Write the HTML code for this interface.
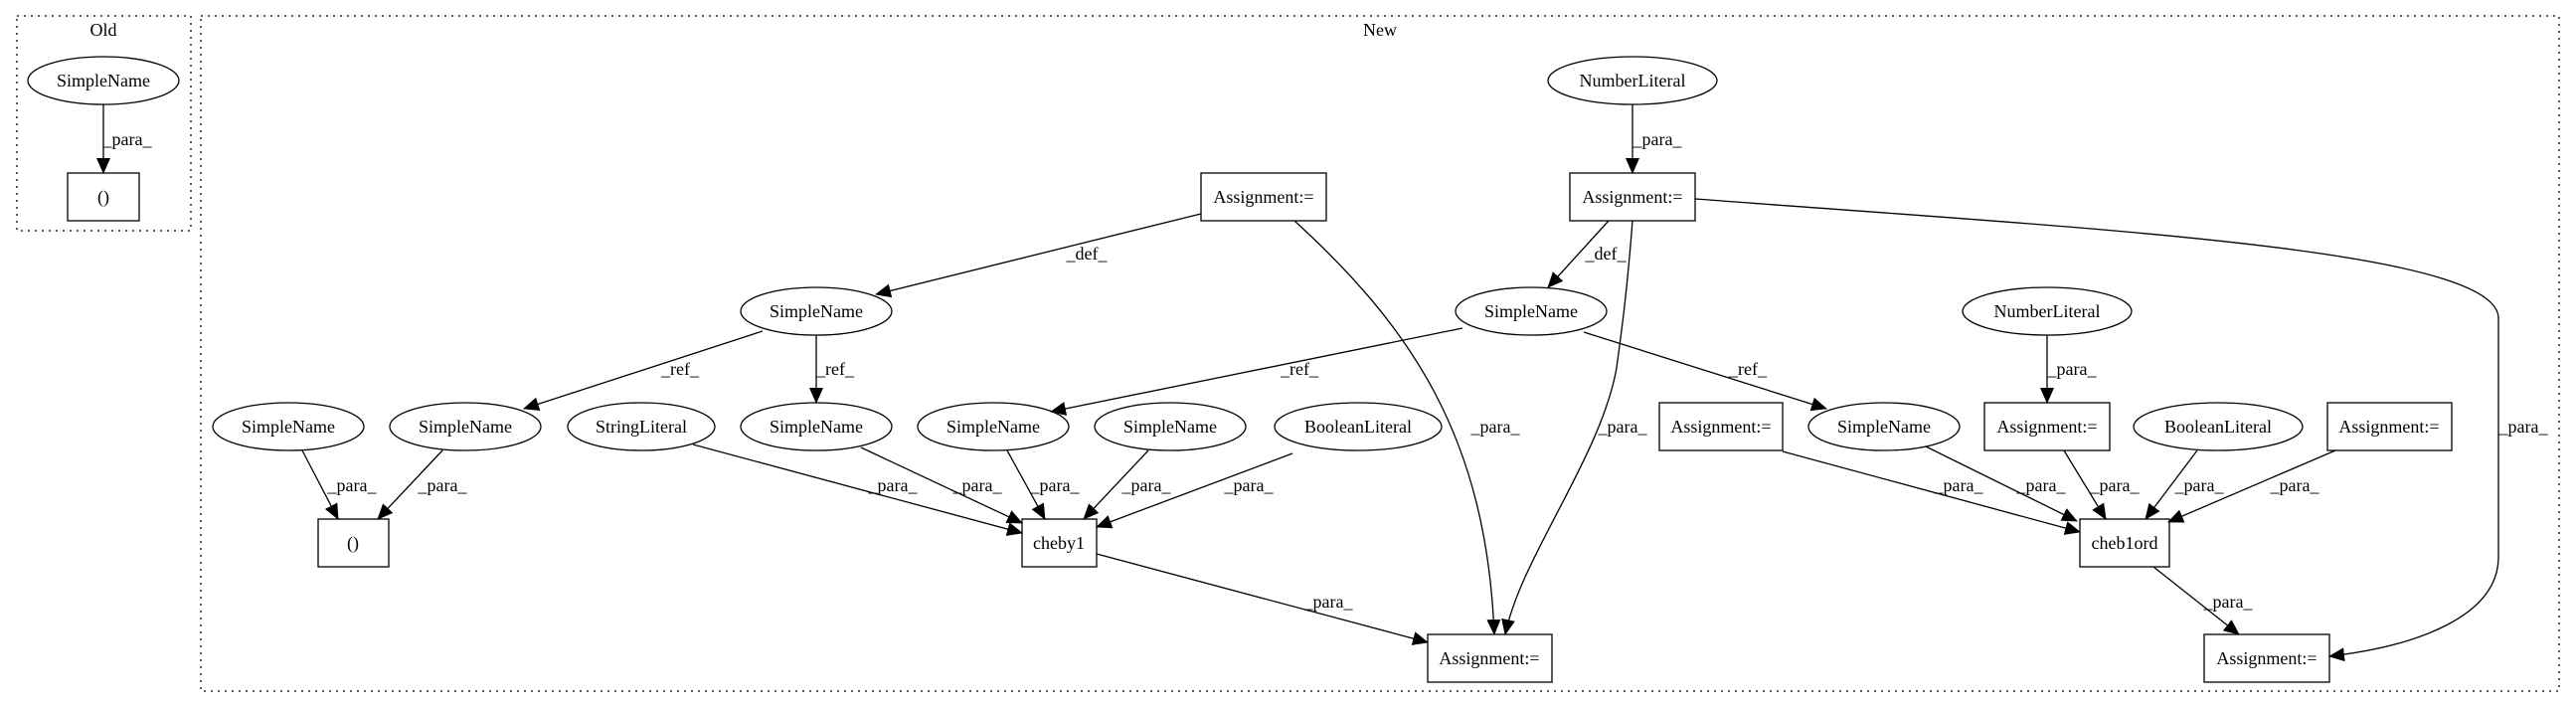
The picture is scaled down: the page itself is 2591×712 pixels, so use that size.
<!DOCTYPE html>
<html><head><meta charset="utf-8"><style>
html,body{margin:0;padding:0;background:#fff;}
svg{display:block;}
text{font-family:"Liberation Serif",serif;font-size:18px;fill:#000;}
</style></head><body>
<svg width="2591" height="712" viewBox="0 0 2591 712" xmlns="http://www.w3.org/2000/svg">
<defs>
<marker id="a" markerUnits="userSpaceOnUse" markerWidth="16" markerHeight="14" refX="15" refY="7" orient="auto">
<path d="M0,0 L16,7 L0,14 Z" fill="#000"/>
</marker>
</defs>
<g fill="none" stroke="#000" stroke-width="1.3">
<!-- clusters -->
<rect x="17" y="16" width="175" height="216" stroke-dasharray="2,5"/>
<rect x="202" y="16" width="2372" height="679" stroke-dasharray="2,5"/>

<!-- nodes: ellipses -->
<ellipse cx="104" cy="81" rx="76" ry="24"/>
<ellipse cx="1642" cy="81" rx="85" ry="24"/>
<ellipse cx="821" cy="313" rx="76" ry="24"/>
<ellipse cx="1540" cy="313" rx="76" ry="24"/>
<ellipse cx="2059" cy="313" rx="85" ry="24"/>
<ellipse cx="290" cy="429" rx="76" ry="24"/>
<ellipse cx="468" cy="429" rx="76" ry="24"/>
<ellipse cx="645" cy="429" rx="74" ry="24"/>
<ellipse cx="821" cy="429" rx="76" ry="24"/>
<ellipse cx="999" cy="429" rx="76" ry="24"/>
<ellipse cx="1177" cy="429" rx="76" ry="24"/>
<ellipse cx="1366" cy="429" rx="84" ry="24"/>
<ellipse cx="1895" cy="429" rx="76" ry="24"/>
<ellipse cx="2231" cy="429" rx="85" ry="24"/>

<!-- boxes -->
<rect x="68" y="174" width="72" height="48"/>
<rect x="1208" y="174" width="126" height="48"/>
<rect x="1579" y="174" width="126" height="48"/>
<rect x="1669" y="405" width="124" height="48"/>
<rect x="1996" y="405" width="126" height="48"/>
<rect x="2341" y="405" width="125" height="48"/>
<rect x="320" y="522" width="71" height="48"/>
<rect x="1028" y="522" width="75" height="48"/>
<rect x="2092" y="522" width="90" height="48"/>
<rect x="1436" y="638" width="125" height="48"/>
<rect x="2217" y="638" width="126" height="48"/>

<!-- edges -->
<path d="M104,105 L104,174" marker-end="url(#a)"/>
<path d="M1642,105 L1642,174" marker-end="url(#a)"/>
<path d="M1208,215 L881,296" marker-end="url(#a)"/>
<path d="M1618,222 L1557,289" marker-end="url(#a)"/>
<path d="M1302,222 C1420,330 1495,440 1503,638" marker-end="url(#a)"/>
<path d="M1642,222 C1636,300 1630,340 1626,370 C1610,460 1530,560 1514,638" marker-end="url(#a)"/>
<path d="M1705,200 C2100,230 2513,250 2513,320 L2513,560 C2513,620 2430,650 2343,660" marker-end="url(#a)"/>
<path d="M767,333 L527,411" marker-end="url(#a)"/>
<path d="M821,337 L821,405" marker-end="url(#a)"/>
<path d="M1471,330 L1057,414" marker-end="url(#a)"/>
<path d="M1593,334 L1837,411" marker-end="url(#a)"/>
<path d="M2059,337 L2059,405" marker-end="url(#a)"/>
<path d="M304,453 L340,522" marker-end="url(#a)"/>
<path d="M445,453 L380,522" marker-end="url(#a)"/>
<path d="M697,447 L1028,536" marker-end="url(#a)"/>
<path d="M866,450 L1028,526" marker-end="url(#a)"/>
<path d="M1013,453 L1051,522" marker-end="url(#a)"/>
<path d="M1155,453 L1090,522" marker-end="url(#a)"/>
<path d="M1300,456 L1103,530" marker-end="url(#a)"/>
<path d="M1103,557 L1436,646" marker-end="url(#a)"/>
<path d="M1793,454 L2092,535" marker-end="url(#a)"/>
<path d="M1937,449 L2089,524" marker-end="url(#a)"/>
<path d="M2076,453 L2118,522" marker-end="url(#a)"/>
<path d="M2210,453 L2158,522" marker-end="url(#a)"/>
<path d="M2349,453 L2181,525" marker-end="url(#a)"/>
<path d="M2166,570 L2252,638" marker-end="url(#a)"/>
</g>

<g text-anchor="middle" dominant-baseline="central">
<text x="104" y="30">Old</text>
<text x="1388" y="30">New</text>
<text x="104" y="81">SimpleName</text>
<text x="1642" y="81">NumberLiteral</text>
<text x="821" y="313">SimpleName</text>
<text x="1540" y="313">SimpleName</text>
<text x="2059" y="313">NumberLiteral</text>
<text x="290" y="429">SimpleName</text>
<text x="468" y="429">SimpleName</text>
<text x="645" y="429">StringLiteral</text>
<text x="821" y="429">SimpleName</text>
<text x="999" y="429">SimpleName</text>
<text x="1177" y="429">SimpleName</text>
<text x="1366" y="429">BooleanLiteral</text>
<text x="1895" y="429">SimpleName</text>
<text x="2231" y="429">BooleanLiteral</text>
<text x="104" y="198">()</text>
<text x="1271" y="198">Assignment:=</text>
<text x="1642" y="198">Assignment:=</text>
<text x="1731" y="429">Assignment:=</text>
<text x="2059" y="429">Assignment:=</text>
<text x="2403" y="429">Assignment:=</text>
<text x="355" y="546">()</text>
<text x="1065" y="546">cheby1</text>
<text x="2137" y="546">cheb1ord</text>
<text x="1498" y="662">Assignment:=</text>
<text x="2280" y="662">Assignment:=</text>
</g>
<g text-anchor="middle" dominant-baseline="central">
<text x="128" y="140">_para_</text>
<text x="1667" y="140">_para_</text>
<text x="1093" y="255">_def_</text>
<text x="1615" y="255">_def_</text>
<text x="684" y="371">_ref_</text>
<text x="840" y="371">_ref_</text>
<text x="1307" y="371">_ref_</text>
<text x="1758" y="371">_ref_</text>
<text x="2084" y="371">_para_</text>
<text x="1504" y="429">_para_</text>
<text x="1632" y="429">_para_</text>
<text x="2538" y="429">_para_</text>
<text x="354" y="488">_para_</text>
<text x="445" y="488">_para_</text>
<text x="898" y="488">_para_</text>
<text x="983" y="488">_para_</text>
<text x="1061" y="488">_para_</text>
<text x="1153" y="488">_para_</text>
<text x="1256" y="488">_para_</text>
<text x="1970" y="488">_para_</text>
<text x="2053" y="488">_para_</text>
<text x="2127" y="488">_para_</text>
<text x="2212" y="488">_para_</text>
<text x="2308" y="488">_para_</text>
<text x="1336" y="605">_para_</text>
<text x="2241" y="605">_para_</text>
</g>
</svg>
</body></html>
